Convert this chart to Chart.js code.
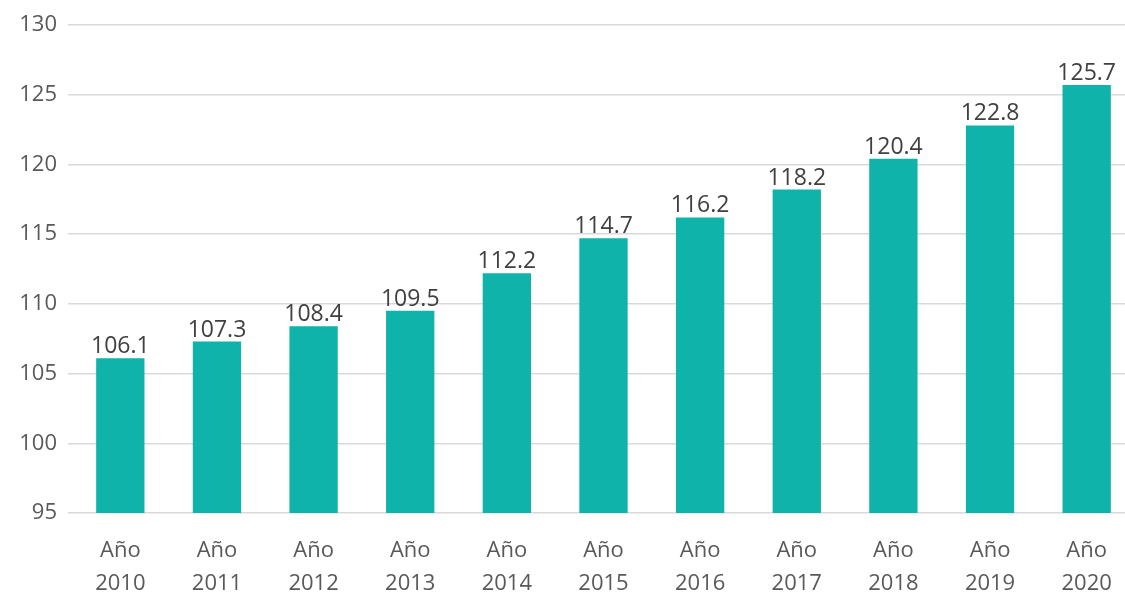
<!DOCTYPE html>
<html>
<head>
<meta charset="utf-8">
<script src="https://cdn.jsdelivr.net/npm/chart.js@4/dist/chart.umd.min.js"></script>
<style>
  html, body { margin: 0; padding: 0; background: #fff; overflow: hidden; }
  #wrap { width: 1135px; height: 593px; }
</style>
</head>
<body>
<div id="wrap"><canvas id="indexChart"></canvas></div>
<script>
const years = ['2010', '2011', '2012', '2013', '2014', '2015', '2016', '2017', '2018', '2019', '2020'];
const values = [106.1, 107.3, 108.4, 109.5, 112.2, 114.7, 116.2, 118.2, 120.4, 122.8, 125.7];
const yMin = 95;
const yMax = 130;
const yStep = 5;

const labels = years.map(y => ['Año', y]);

// value labels on top of bars
const barLabels = {
  id: 'barLabels',
  afterDatasetsDraw(chart) {
    const c = chart.ctx;
    const meta = chart.getDatasetMeta(0);
    c.save();
    c.font = '23px "Open Sans"';
    c.fillStyle = '#404040';
    c.textAlign = 'center';
    c.textBaseline = 'alphabetic';
    meta.data.forEach((bar, i) => {
      c.fillText(values[i].toFixed(1), bar.x, bar.y - 5);
    });
    c.restore();
  }
};

const ctx = document.getElementById('indexChart').getContext('2d');
const indexChart = new Chart(ctx, {
  type: 'bar',
  data: {
    labels: labels,
    datasets: [{
      data: values,
      backgroundColor: '#0fb3aa',
      barPercentage: 0.5,
      categoryPercentage: 1.0
    }]
  },
  options: {
    responsive: true,
    maintainAspectRatio: false,
    animation: false,
    layout: { padding: { top: 25, right: 0, left: 0, bottom: 0 } },
    plugins: {
      legend: { display: false },
      tooltip: { enabled: false }
    },
    scales: {
      y: {
        min: yMin,
        max: yMax,
        border: { display: false },
        grid: { color: '#d9d9d9', lineWidth: 1.5, tickLength: 4 },
        ticks: {
          stepSize: yStep,
          color: '#595959',
          font: { family: 'Open Sans', size: 22 },
          padding: 11
        },
        afterFit(scale) { scale.width = 72; }
      },
      x: {
        border: { display: false },
        grid: { display: false },
        ticks: {
          color: '#595959',
          font: { family: 'Open Sans', size: 22, lineHeight: 1.5 },
          padding: 13,
          maxRotation: 0
        },
        afterFit(scale) { scale.height = 80; }
      }
    }
  },
  plugins: [barLabels]
});
</script>
</body>
</html>
